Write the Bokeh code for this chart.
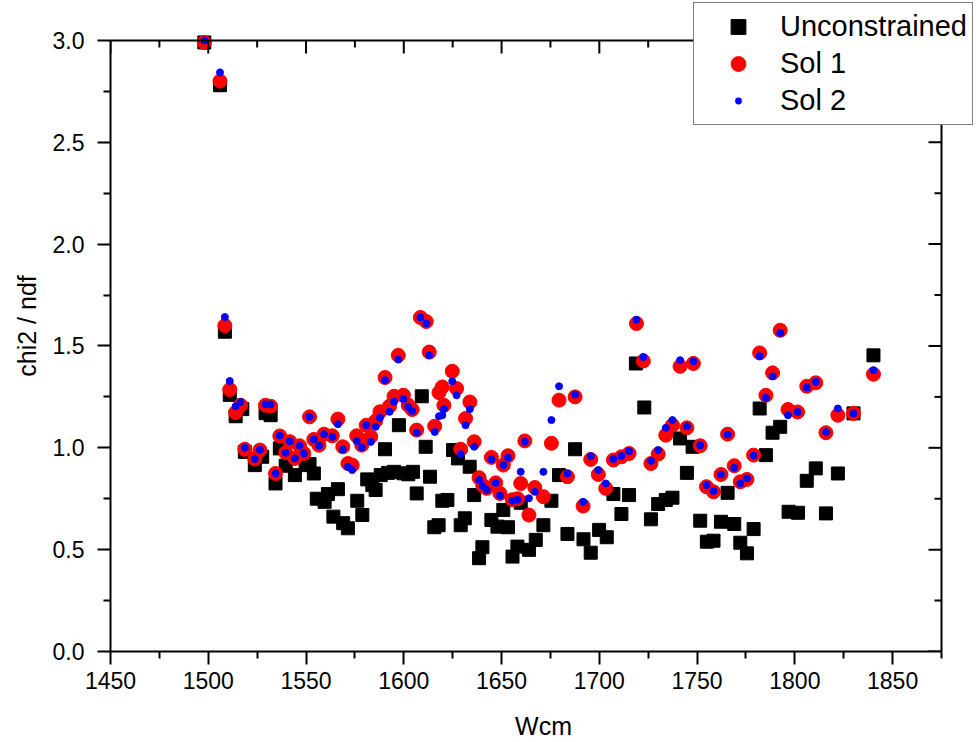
import math
from bokeh.plotting import figure
from bokeh.models import (Range1d, Legend, LegendItem, FixedTicker, PrintfTickFormatter)
from bokeh.embed import file_html
from bokeh.resources import INLINE

# ---------------- data ----------------
wcm_unc = [1498, 1506, 1508.5, 1511, 1514, 1517.4, 1518.7, 1523.8, 1527.6, 1529.3,
           1531.9, 1534.4, 1536.6, 1539.6, 1544.3, 1549.8, 1551.8, 1554, 1555.5, 1559.5,
           1561.2, 1564, 1566.3, 1569, 1571.4, 1576.2, 1578.8, 1581.3, 1583.9, 1585.6,
           1588.2, 1590.4, 1591.9, 1595, 1597.5, 1599.8, 1602.3, 1604.7, 1606.6, 1609.2,
           1611.2, 1613.4, 1615.6, 1617.8, 1619.7, 1622.3, 1625.2, 1627.7, 1629.1, 1631.2,
           1633.7, 1636, 1638.5, 1640.2, 1644.8, 1647.9, 1650.9, 1653.3, 1655.6, 1658.1,
           1659.8, 1664, 1667.5, 1671.4, 1675.5, 1679.4, 1683.7, 1687.6, 1691.9, 1695.6,
           1699.9, 1703.8, 1707.2, 1711.3, 1715.2, 1718.7, 1723, 1726.4, 1730.1, 1734,
           1737.4, 1741.3, 1744.8, 1747.7, 1751.6, 1755, 1758.4, 1762.2, 1765.6, 1769,
           1772.1, 1775.5, 1778.9, 1782, 1785.2, 1788.6, 1792.5, 1796.8, 1801.6, 1806.1,
           1810.7, 1815.9, 1822, 1830, 1840.2]
unconstrained = [2.99, 2.78, 1.57, 1.26, 1.155, 1.19, 0.98, 0.915, 0.956, 1.17,
                 1.16, 0.825, 0.997, 0.912, 0.866, 0.915, 0.92, 0.874, 0.75, 0.735,
                 0.773, 0.662, 0.797, 0.63, 0.605, 0.74, 0.67, 0.845, 0.817, 0.793,
                 0.866, 0.993, 0.877, 0.882, 1.111, 0.875, 0.87, 0.882, 0.776, 1.253,
                 1.005, 0.858, 0.61, 0.62, 0.74, 0.744, 0.989, 0.948, 0.62, 0.654,
                 0.907, 0.768, 0.458, 0.512, 0.646, 0.613, 0.695, 0.61, 0.466, 0.515,
                 0.73, 0.499, 0.548, 0.62, 0.74, 0.866, 0.577, 0.993, 0.551, 0.485,
                 0.597, 0.561, 0.773, 0.675, 0.768, 1.414, 1.198, 0.649, 0.724, 0.744,
                 0.755, 1.046, 0.877, 1.005, 0.642, 0.539, 0.544, 0.637, 0.779, 0.626,
                 0.534, 0.482, 0.601, 1.193, 0.964, 1.074, 1.103, 0.686, 0.681, 0.838,
                 0.899, 0.678, 0.874, 1.169, 1.454]

wcm_sol = [1498, 1506, 1508.5, 1511, 1514, 1516.5, 1518.7, 1523.8, 1526.4, 1529.3,
           1531.9, 1534.4, 1536.6, 1539.6, 1541.7, 1544.3, 1546.7, 1548.9, 1551.8, 1554,
           1556.6, 1559.2, 1563.4, 1566.3, 1568.8, 1571.4, 1573.6, 1575.9, 1578.5, 1580.8,
           1583.1, 1585.6, 1587.8, 1590.4, 1592.7, 1595, 1597.2, 1599.8, 1602.3, 1604.3,
           1606.6, 1608.5, 1611.5, 1613, 1615.8, 1618, 1619.7, 1620.5, 1624.8, 1627,
           1629.1, 1631.6, 1633.8, 1636, 1638.5, 1640.4, 1642.4, 1644.8, 1647, 1649.2,
           1650.9, 1653.3, 1655.5, 1658.2, 1659.8, 1661.9, 1664, 1667, 1671.4, 1675.5,
           1679.4, 1683.7, 1687.6, 1691.7, 1695.6, 1699.5, 1703.3, 1707.2, 1711.3, 1715.2,
           1719, 1722.5, 1726.4, 1730.1, 1734, 1737.4, 1741.3, 1744.8, 1748.1, 1751.6,
           1754.8, 1758.4, 1762.2, 1765.6, 1769, 1772.1, 1775.5, 1778.9, 1782, 1785.2,
           1788.6, 1792.5, 1796.5, 1801.4, 1806.1, 1810.7, 1815.9, 1822, 1830, 1840.2]
sol1 = [2.99, 2.80, 1.60, 1.286, 1.173, 1.209, 0.993, 0.945, 0.989, 1.209,
        1.204, 0.874, 1.058, 0.976, 1.03, 0.948, 1.01, 0.972, 1.152, 1.041,
        1.013, 1.067, 1.059, 1.141, 1.005, 0.923, 0.915, 1.059, 1.013, 1.111,
        1.054, 1.132, 1.177, 1.345, 1.204, 1.253, 1.454, 1.258, 1.209, 1.188,
        1.087, 1.64, 1.62, 1.47, 1.106, 1.271, 1.299, 1.209, 1.376, 1.291,
        0.993, 1.144, 1.225, 1.03, 0.853, 0.815, 0.801, 0.953, 0.828, 0.776,
        0.915, 0.961, 0.745, 0.75, 0.825, 1.034, 0.67, 0.805, 0.76, 1.022,
        1.234, 0.858, 1.25, 0.714, 0.943, 0.869, 0.801, 0.94, 0.956, 0.972,
        1.61, 1.426, 0.923, 0.969, 1.062, 1.111, 1.40, 1.098, 1.414, 1.01,
        0.809, 0.784, 0.869, 1.067, 0.912, 0.833, 0.845, 0.964, 1.466, 1.258,
        1.368, 1.577, 1.188, 1.176, 1.302, 1.319, 1.074, 1.16, 1.169, 1.361]
sol2 = [3.0, 2.843, 1.642, 1.328, 1.204, 1.225, 1.0, 0.945, 0.99, 1.214,
        1.213, 0.874, 1.06, 0.976, 1.032, 0.948, 1.01, 0.972, 1.152, 1.041,
        1.01, 1.067, 1.054, 1.116, 0.992, 0.907, 0.891, 1.033, 1.002, 1.111,
        1.029, 1.103, 1.147, 1.332, 1.177, 1.226, 1.433, 1.239, 1.2, 1.181,
        1.074, 1.64, 1.61, 1.455, 1.078, 1.155, 1.16, 1.19, 1.327, 1.258,
        0.969, 1.111, 1.19, 1.005, 0.842, 0.812, 0.793, 0.943, 0.828, 0.765,
        0.915, 0.951, 0.74, 0.745, 0.882, 1.03, 0.752, 0.784, 0.882, 1.136,
        1.302, 0.874, 1.262, 0.735, 0.959, 0.891, 0.825, 0.945, 0.96, 0.984,
        1.629, 1.446, 0.936, 0.989, 1.098, 1.136, 1.43, 1.106, 1.425, 1.012,
        0.817, 0.788, 0.869, 1.065, 0.902, 0.825, 0.85, 0.962, 1.45, 1.245,
        1.351, 1.564, 1.16, 1.176, 1.296, 1.324, 1.077, 1.193, 1.169, 1.381]

x_major = [1450, 1500, 1550, 1600, 1650, 1700, 1750, 1800, 1850]
x_minor = [1475, 1525, 1575, 1625, 1675, 1725, 1775, 1825, 1875]
y_major = [0.0, 0.5, 1.0, 1.5, 2.0, 2.5, 3.0]
y_minor = [0.25, 0.75, 1.25, 1.75, 2.25, 2.75]
x_lo, x_hi = 1450, 1875
y_lo, y_hi = 0.0, 3.0

FONT = "Liberation Sans"

# frame extends beyond the axis box (to the top and right) so the legend can overlap it
p = figure(width=976, height=742, output_backend="svg", toolbar_location=None,
           x_range=Range1d(x_lo, x_hi + 17.9), y_range=Range1d(y_lo, y_hi + 0.196),
           min_border_left=110, min_border_right=0, min_border_top=0,
           min_border_bottom=90, x_axis_label="Wcm", y_axis_label="chi2 / ndf")
p.xgrid.visible = False
p.ygrid.visible = False
p.outline_line_color = None
p.background_fill_color = "white"
p.border_fill_color = "white"


def style_axis(ax, ticker):
    ax.ticker = ticker
    ax.axis_line_width = 2
    ax.axis_line_color = "black"
    ax.major_tick_line_width = 2
    ax.minor_tick_line_width = 2
    ax.major_tick_line_color = "black"
    ax.minor_tick_line_color = "black"
    ax.major_tick_out = 13
    ax.major_tick_in = 0
    ax.minor_tick_out = 7
    ax.minor_tick_in = 0
    ax.major_label_text_font = FONT
    ax.major_label_text_font_size = "23px"
    ax.major_label_text_color = "black"
    ax.axis_label_text_font = FONT
    ax.axis_label_text_font_size = "25px"
    ax.axis_label_text_font_style = "normal"
    ax.axis_label_text_color = "black"


xa = p.xaxis[0]
style_axis(xa, FixedTicker(ticks=x_major, minor_ticks=x_minor))
xa.bounds = (x_lo, x_hi)
xa.formatter = PrintfTickFormatter(format="%d")
xa.major_label_standoff = 7
xa.axis_label_standoff = 20

ya = p.yaxis[0]
style_axis(ya, FixedTicker(ticks=y_major, minor_ticks=y_minor))
ya.bounds = (y_lo, y_hi)
ya.formatter = PrintfTickFormatter(format="%.1f")
ya.major_label_standoff = 13
ya.axis_label_standoff = 9

# legend-only look for "Sol 2": a small blue dot (white ring), drawn first so it stays hidden
r_s2_leg = p.scatter(wcm_sol, sol2, marker="circle", size=7,
                     fill_color="blue", line_color="white", line_width=8)

r_unc = p.scatter(wcm_unc, unconstrained, marker="square", size=13,
                  fill_color="black", line_color="black", line_width=1)
r_s1 = p.scatter(wcm_sol, sol1, marker="circle", size=14,
                 fill_color="red", line_color="red", line_width=1)
r_s2 = p.scatter(wcm_sol, sol2, marker="circle", size=7,
                 fill_color="blue", line_color="blue", line_width=1)

# top and right box lines with inward ticks (drawn over the points, like the axes)
p.segment(x0=[x_lo, x_hi], y0=[y_hi, y_lo], x1=[x_hi, x_hi], y1=[y_hi, y_hi],
          line_color="black", line_width=2, line_cap="square")
p.ray(x=x_major, y=[y_hi] * len(x_major), length=13, angle=-math.pi / 2,
      length_units="screen", line_color="black", line_width=2)
p.ray(x=x_minor, y=[y_hi] * len(x_minor), length=7, angle=-math.pi / 2,
      length_units="screen", line_color="black", line_width=2)
p.ray(x=[x_hi] * len(y_major), y=y_major, length=13, angle=math.pi,
      length_units="screen", line_color="black", line_width=2)
p.ray(x=[x_hi] * len(y_minor), y=y_minor, length=7, angle=math.pi,
      length_units="screen", line_color="black", line_width=2)

legend = Legend(items=[LegendItem(label="Unconstrained", renderers=[r_unc]),
                       LegendItem(label="Sol 1", renderers=[r_s1]),
                       LegendItem(label="Sol 2", renderers=[r_s2_leg])],
                location=(583, 526))
legend.border_line_color = "black"
legend.border_line_width = 1
legend.background_fill_color = "white"
legend.background_fill_alpha = 1
legend.padding = 5
legend.spacing = 0
legend.margin = 0
legend.glyph_width = 78
legend.glyph_height = 37
legend.label_height = 37
legend.label_standoff = 3
legend.label_text_font = FONT
legend.label_text_font_size = "29px"
legend.label_text_color = "black"
p.add_layout(legend)

open("out.html", "w").write(file_html(p, INLINE))
